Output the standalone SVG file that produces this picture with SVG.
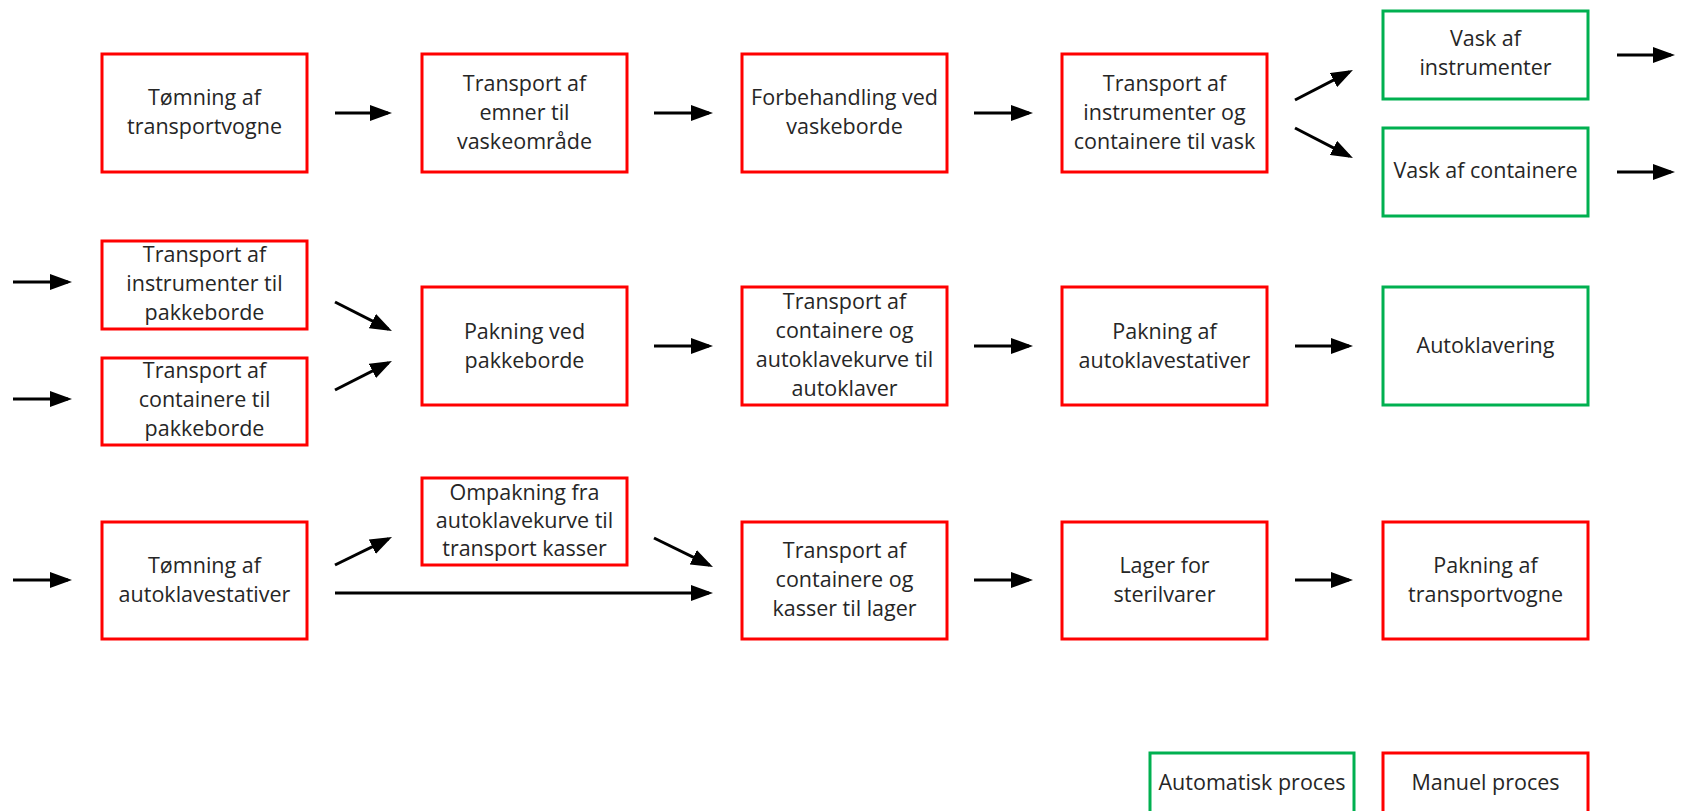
<svg xmlns="http://www.w3.org/2000/svg" width="1681" height="811" viewBox="0 0 1681 811">
<style>
.bg{fill:#fff}
.m{fill:#fff;stroke:#ff0000;stroke-width:3}
.a{fill:#fff;stroke:#00b050;stroke-width:3}
text{font-family:"Open Sans","Liberation Sans",sans-serif;font-size:21.5px;fill:#262626;text-anchor:middle}
.c line{stroke:#000;stroke-width:3;marker-end:url(#ah)}
</style>
<defs>
<marker id="ah" markerUnits="userSpaceOnUse" markerWidth="24" markerHeight="16" refX="18" refY="8" orient="auto">
<path d="M0,0 L22,8 L0,16 z" fill="#000"/>
</marker>
</defs>
<rect class="bg" x="0" y="0" width="1681" height="811"/>

<g id="n1"><rect class="m" x="102" y="54" width="205" height="118"/><text x="204.5" y="105">Tømning af</text><text x="204.5" y="134">transportvogne</text></g>
<g id="n2"><rect class="m" x="422" y="54" width="205" height="118"/><text x="524.5" y="91">Transport af</text><text x="524.5" y="120">emner til</text><text x="524.5" y="149">vaskeområde</text></g>
<g id="n3"><rect class="m" x="742" y="54" width="205" height="118"/><text x="844.5" y="105">Forbehandling ved</text><text x="844.5" y="134">vaskeborde</text></g>
<g id="n4"><rect class="m" x="1062" y="54" width="205" height="118"/><text x="1164.5" y="91">Transport af</text><text x="1164.5" y="120">instrumenter og</text><text x="1164.5" y="149">containere til vask</text></g>
<g id="n5"><rect class="a" x="1383" y="11" width="205" height="88"/><text x="1485.5" y="46">Vask af</text><text x="1485.5" y="75">instrumenter</text></g>
<g id="n6"><rect class="a" x="1383" y="128" width="205" height="88"/><text x="1485.5" y="178">Vask af containere</text></g>

<g id="n7"><rect class="m" x="102" y="241" width="205" height="88"/><text x="204.5" y="262">Transport af</text><text x="204.5" y="291">instrumenter til</text><text x="204.5" y="320">pakkeborde</text></g>
<g id="n8"><rect class="m" x="102" y="358" width="205" height="87"/><text x="204.5" y="378">Transport af</text><text x="204.5" y="407">containere til</text><text x="204.5" y="436">pakkeborde</text></g>
<g id="n9"><rect class="m" x="422" y="287" width="205" height="118"/><text x="524.5" y="339">Pakning ved</text><text x="524.5" y="368">pakkeborde</text></g>
<g id="n10"><rect class="m" x="742" y="287" width="205" height="118"/><text x="844.5" y="309">Transport af</text><text x="844.5" y="338">containere og</text><text x="844.5" y="367">autoklavekurve til</text><text x="844.5" y="396">autoklaver</text></g>
<g id="n11"><rect class="m" x="1062" y="287" width="205" height="118"/><text x="1164.5" y="339">Pakning af</text><text x="1164.5" y="368">autoklavestativer</text></g>
<g id="n12"><rect class="a" x="1383" y="287" width="205" height="118"/><text x="1485.5" y="353">Autoklavering</text></g>

<g id="n13"><rect class="m" x="102" y="522" width="205" height="117"/><text x="204.5" y="573">Tømning af</text><text x="204.5" y="602">autoklavestativer</text></g>
<g id="n14"><rect class="m" x="422" y="478" width="205" height="87"/><text x="524.5" y="500">Ompakning fra</text><text x="524.5" y="528">autoklavekurve til</text><text x="524.5" y="556">transport kasser</text></g>
<g id="n15"><rect class="m" x="742" y="522" width="205" height="117"/><text x="844.5" y="558">Transport af</text><text x="844.5" y="587">containere og</text><text x="844.5" y="616">kasser til lager</text></g>
<g id="n16"><rect class="m" x="1062" y="522" width="205" height="117"/><text x="1164.5" y="573">Lager for</text><text x="1164.5" y="602">sterilvarer</text></g>
<g id="n17"><rect class="m" x="1383" y="522" width="205" height="117"/><text x="1485.5" y="573">Pakning af</text><text x="1485.5" y="602">transportvogne</text></g>

<g id="legend-auto"><rect class="a" x="1150" y="753" width="204" height="80"/><text x="1252" y="790">Automatisk proces</text></g>
<g id="legend-manual"><rect class="m" x="1383" y="753" width="205" height="80"/><text x="1485.5" y="790">Manuel proces</text></g>

<g id="connectors" class="c">
<line x1="335" y1="113" x2="388" y2="113"/>
<line x1="654" y1="113" x2="709" y2="113"/>
<line x1="974" y1="113" x2="1029" y2="113"/>
<line x1="1295" y1="100" x2="1349.4" y2="71.8"/>
<line x1="1295" y1="128" x2="1349.4" y2="156.2"/>
<line x1="1617" y1="55" x2="1671" y2="55"/>
<line x1="1617" y1="172" x2="1671" y2="172"/>

<line x1="13" y1="282" x2="68" y2="282"/>
<line x1="13" y1="399" x2="68" y2="399"/>
<line x1="335" y1="302" x2="388.4" y2="329.2"/>
<line x1="335" y1="390" x2="388.4" y2="362.8"/>
<line x1="654" y1="346" x2="709" y2="346"/>
<line x1="974" y1="346" x2="1029" y2="346"/>
<line x1="1295" y1="346" x2="1349" y2="346"/>

<line x1="13" y1="580" x2="68" y2="580"/>
<line x1="335" y1="565" x2="388.4" y2="538.8"/>
<line x1="654" y1="538" x2="709.4" y2="565.2"/>
<line x1="335" y1="593" x2="709" y2="593"/>
<line x1="974" y1="580" x2="1029" y2="580"/>
<line x1="1295" y1="580" x2="1349" y2="580"/>
</g>
</svg>
